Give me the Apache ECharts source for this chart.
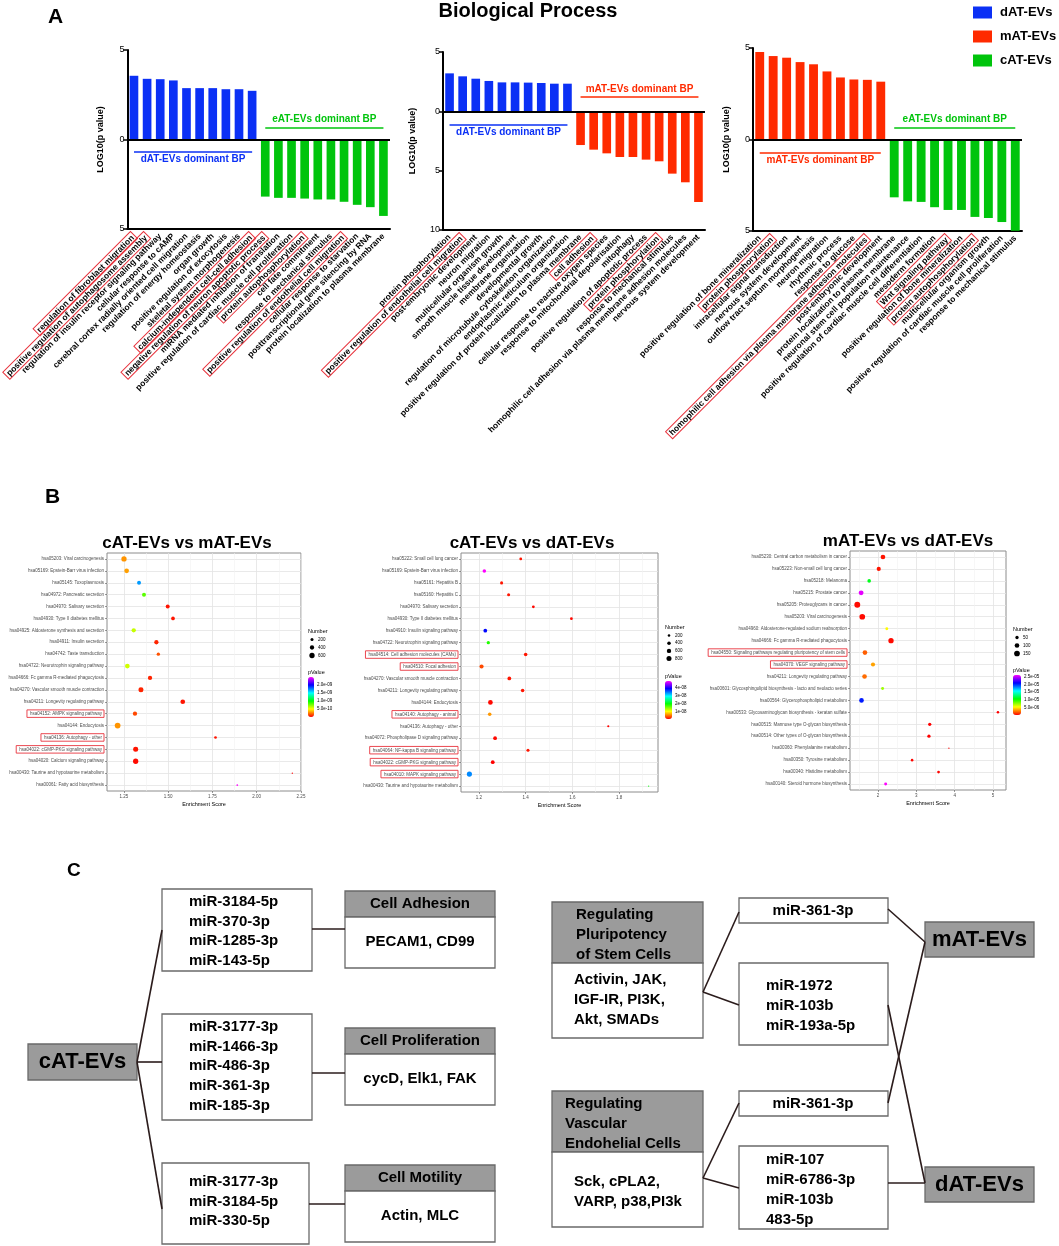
<!DOCTYPE html>
<html>
<head>
<meta charset="utf-8">
<script src="https://cdn.jsdelivr.net/npm/echarts@6/dist/echarts.min.js"></script>
<style>
html, body { margin: 0; padding: 0; background: #fff; }
#chart { width: 1059px; height: 1246px; }
</style>
</head>
<body>
<div id="chart"></div>
<script>
// ---- panel A: GO biological process ----
var bp1Labels = ['regulation of fibroblast migration', 'positive regulation of autophagosome assembly', 'regulation of insulin receptor signaling pathway', 'cellular response to cAMP', 'cerebral cortex radially oriented cell migration', 'regulation of energy homeostasis', 'organ growth', 'positive regulation of exocytosis', 'skeletal system morphogenesis', 'calcium-independent cell-cell adhesion', 'negative regulation of neuron apoptotic process', 'miRNA mediated inhibition of translation', 'positive regulation of cardiac muscle cell proliferation', 'protein autophosphorylation', 'cell fate commitment', 'response to mechanical stimulus', 'positive regulation of endothelial cell migration', 'cellular response to starvation', 'posttranscriptional gene silencing by RNA', 'protein localization to plasma membrane'];
var bp1Up = [3.56, 3.39, 3.37, 3.30, 2.87, 2.87, 2.87, 2.81, 2.81, 2.72];
var bp1Down = [3.19, 3.26, 3.26, 3.30, 3.35, 3.35, 3.48, 3.65, 3.78, 4.27];
var bp1Boxed = [0, 1, 9, 10, 13, 16];

var bp2Labels = ['protein phosphorylation', 'positive regulation of endothelial cell migration', 'post-embryonic development', 'neuron migration', 'multicellular organism growth', 'smooth muscle tissue development', 'membrane organization', 'developmental growth', 'regulation of microtubule cytoskeleton organization', 'endoplasmic reticulum organization', 'positive regulation of protein localization to plasma membrane', 'cell adhesion', 'cellular response to reactive oxygen species', 'response to mitochondrial depolarisation', 'mitophagy', 'positive regulation of apoptotic process', 'protein phosphorylation', 'response to mechanical stimulus', 'homophilic cell adhesion via plasma membrane adhesion molecules', 'nervous system development'];
var bp2Up = [3.20, 2.95, 2.75, 2.56, 2.44, 2.44, 2.42, 2.39, 2.33, 2.33];
var bp2Down = [2.84, 3.23, 3.54, 3.85, 3.85, 4.07, 4.21, 5.25, 5.98, 7.64];
var bp2Boxed = [1, 11, 16];

var bp3Labels = ['positive regulation of bone mineralization', 'protein phosphorylation', 'intracellular signal transduction', 'nervous system development', 'outflow tract septum morphogenesis', 'neuron migration', 'rhythmic process', 'response to glucose', 'homophilic cell adhesion via plasma membrane adhesion molecules', 'post-embryonic development', 'protein localization to plasma membrane', 'neuronal stem cell population maintenance', 'positive regulation of cardiac muscle cell differentiation', 'mesoderm formation', 'Wnt signaling pathway', 'positive regulation of bone mineralization', 'protein autophosphorylation', 'multicellular organism growth', 'positive regulation of cardiac muscle cell proliferation', 'response to mechanical stimulus'];
var bp3Up = [4.78, 4.56, 4.47, 4.23, 4.11, 3.72, 3.39, 3.28, 3.26, 3.16];
var bp3Down = [3.16, 3.38, 3.41, 3.70, 3.85, 3.85, 4.23, 4.29, 4.51, 4.98];
var bp3Boxed = [1, 8, 14, 16];

var groupNames = ['dAT-EVs', 'mAT-EVs', 'cAT-EVs'];
var noteTexts = ['dAT-EVs dominant BP', 'mAT-EVs dominant BP', 'eAT-EVs dominant BP'];

// ---- panel B: KEGG enrichment ----
var kegg1Cats = ['hsa05203: Viral carcinogenesis', 'hsa05169: Epstein-Barr virus infection', 'hsa05145: Toxoplasmosis', 'hsa04972: Pancreatic secretion', 'hsa04970: Salivary secretion', 'hsa04930: Type II diabetes mellitus', 'hsa04925: Aldosterone synthesis and secretion', 'hsa04911: Insulin secretion', 'hsa04742: Taste transduction', 'hsa04722: Neurotrophin signaling pathway', 'hsa04666: Fc gamma R-mediated phagocytosis', 'hsa04270: Vascular smooth muscle contraction', 'hsa04211: Longevity regulating pathway', 'hsa04152: AMPK signaling pathway', 'hsa04144: Endocytosis', 'hsa04136: Autophagy - other', 'hsa04022: cGMP-PKG signaling pathway', 'hsa04020: Calcium signaling pathway', 'hsa00430: Taurine and hypotaurine metabolism', 'hsa00061: Fatty acid biosynthesis'];
var kegg1Score = [1.25, 1.265, 1.335, 1.363, 1.497, 1.527, 1.305, 1.433, 1.444, 1.269, 1.397, 1.346, 1.582, 1.312, 1.214, 1.767, 1.316, 1.316, 2.201, 1.890];
var kegg1P = [3.0e-10, 3.2e-10, 1.7e-9, 8.3e-10, 5e-11, 5e-11, 6.2e-10, 8e-11, 1.7e-10, 6.0e-10, 8e-11, 8e-11, 5e-11, 1.5e-10, 3.0e-10, 5e-11, 5e-11, 3e-11, 1e-11, 2.5e-9];
var kegg1N = [600, 470, 340, 340, 340, 290, 400, 400, 240, 470, 400, 535, 470, 400, 700, 150, 535, 600, 40, 60];
var kegg1Boxed = [13, 15, 16];
var kegg1Ticks = [1.25, 1.5, 1.75, 2.0, 2.25];
var kegg1Minor = [1.375, 1.625, 1.875, 2.125];
var kegg1SizeKeys = [200, 400, 600];
var kegg1PKeys = [5e-10, 1e-9, 1.5e-9, 2e-9];

var kegg2Cats = ['hsa05222: Small cell lung cancer', 'hsa05169: Epstein-Barr virus infection', 'hsa05161: Hepatitis B', 'hsa05160: Hepatitis C', 'hsa04970: Salivary secretion', 'hsa04930: Type II diabetes mellitus', 'hsa04910: Insulin signaling pathway', 'hsa04722: Neurotrophin signaling pathway', 'hsa04514: Cell adhesion molecules (CAMs)', 'hsa04510: Focal adhesion', 'hsa04270: Vascular smooth muscle contraction', 'hsa04211: Longevity regulating pathway', 'hsa04144: Endocytosis', 'hsa04140: Autophagy - animal', 'hsa04136: Autophagy - other', 'hsa04072: Phospholipase D signaling pathway', 'hsa04064: NF-kappa B signaling pathway', 'hsa04022: cGMP-PKG signaling pathway', 'hsa04010: MAPK signaling pathway', 'hsa00430: Taurine and hypotaurine metabolism'];
var kegg2Score = [1.379, 1.223, 1.297, 1.327, 1.433, 1.596, 1.227, 1.240, 1.400, 1.211, 1.330, 1.387, 1.249, 1.246, 1.754, 1.269, 1.410, 1.259, 1.159, 1.927];
var kegg2P = [1e-9, 4.9e-8, 1e-9, 1e-9, 5e-10, 5e-10, 3.9e-8, 1.85e-8, 1e-9, 3e-9, 1e-9, 1e-9, 5e-10, 6e-9, 3e-10, 5e-10, 1e-9, 2e-10, 3.4e-8, 2e-8];
var kegg2N = [250, 400, 300, 300, 250, 250, 450, 350, 400, 550, 450, 400, 700, 400, 150, 450, 300, 450, 850, 40];
var kegg2Boxed = [8, 9, 13, 16, 17, 18];
var kegg2Ticks = [1.2, 1.4, 1.6, 1.8];
var kegg2Minor = [1.3, 1.5, 1.7, 1.9];
var kegg2SizeKeys = [200, 400, 600, 800];
var kegg2PKeys = [1e-8, 2e-8, 3e-8, 4e-8];

var kegg3Cats = ['hsa05230: Central carbon metabolism in cancer', 'hsa05223: Non-small cell lung cancer', 'hsa05218: Melanoma', 'hsa05215: Prostate cancer', 'hsa05205: Proteoglycans in cancer', 'hsa05203: Viral carcinogenesis', 'hsa04960: Aldosterone-regulated sodium reabsorption', 'hsa04666: Fc gamma R-mediated phagocytosis', 'hsa04550: Signaling pathways regulating pluripotency of stem cells', 'hsa04370: VEGF signaling pathway', 'hsa04211: Longevity regulating pathway', 'hsa00601: Glycosphingolipid biosynthesis - lacto and neolacto series', 'hsa00564: Glycerophospholipid metabolism', 'hsa00533: Glycosaminoglycan biosynthesis - keratan sulfate', 'hsa00515: Mannose type O-glycan biosynthesis', 'hsa00514: Other types of O-glycan biosynthesis', 'hsa00360: Phenylalanine metabolism', 'hsa00350: Tyrosine metabolism', 'hsa00340: Histidine metabolism', 'hsa00140: Steroid hormone biosynthesis'];
var kegg3Score = [2.13, 2.02, 1.77, 1.56, 1.46, 1.59, 2.23, 2.34, 1.66, 1.87, 1.65, 2.12, 1.57, 5.13, 3.35, 3.33, 3.85, 2.89, 3.58, 2.20];
var kegg3P = [5e-7, 5e-7, 1.1e-5, 2.55e-5, 3e-7, 3e-7, 5.2e-6, 3e-7, 2e-6, 3.4e-6, 2.3e-6, 7.3e-6, 2.03e-5, 1e-7, 1e-7, 1e-7, 2e-7, 2e-7, 2e-7, 2.6e-5];
var kegg3N = [100, 80, 60, 110, 160, 150, 40, 130, 100, 80, 100, 40, 100, 30, 50, 50, 8, 30, 35, 40];
var kegg3Boxed = [8, 9];
var kegg3Ticks = [2, 3, 4, 5];
var kegg3Minor = [1.5, 2.5, 3.5, 4.5];
var kegg3SizeKeys = [50, 100, 150];
var kegg3PKeys = [5e-6, 1e-5, 1.5e-5, 2e-5, 2.5e-5];

var keggTitles = ['cAT-EVs vs mAT-EVs', 'cAT-EVs vs dAT-EVs', 'mAT-EVs vs dAT-EVs'];

// ---- panel C: miRNA network ----
var cLeftMirs = [['miR-3184-5p', 'miR-370-3p', 'miR-1285-3p', 'miR-143-5p'], ['miR-3177-3p', 'miR-1466-3p', 'miR-486-3p', 'miR-361-3p', 'miR-185-3p'], ['miR-3177-3p', 'miR-3184-5p', 'miR-330-5p']];
var cFunctions = ['Cell Adhesion', 'Cell Proliferation', 'Cell Motility'];
var cTargets = ['PECAM1, CD99', 'cycD, Elk1, FAK', 'Actin, MLC'];
var cRightHeads = [['Regulating', 'Pluripotency', 'of Stem Cells'], ['Regulating', 'Vascular', 'Endohelial Cells']];
var cRightBodies = [['Activin, JAK,', 'IGF-IR, PI3K,', 'Akt, SMADs'], ['Sck, cPLA2,', 'VARP, p38,PI3k']];
var cRightMirs = [['miR-361-3p'], ['miR-1972', 'miR-103b', 'miR-193a-5p'], ['miR-361-3p'], ['miR-107', 'miR-6786-3p', 'miR-103b', '483-5p']];
var cGroups = ['cAT-EVs', 'mAT-EVs', 'dAT-EVs'];

var FONT = '"Liberation Sans", Arial, Helvetica, sans-serif';
var COLORS = {'dAT-EVs': '#0b30f5', 'mAT-EVs': '#ff2a00', 'cAT-EVs': '#00c40c'};
var RAINBOW = ['#ff0000', '#ffff00', '#00ff00', '#00ffff', '#0000ff', '#ff00ff'];

var grids = [], xAxes = [], yAxes = [], series = [], visualMaps = [], graphics = [];

function gText(t, x, y, size, align, weight, color) {
  return {type: 'text', x: x, y: y, silent: true, z: 10,
    style: {text: t, font: (weight || 'bold') + ' ' + size + 'px ' + FONT, fill: color || '#000',
      textAlign: align || 'left', textVerticalAlign: 'middle'}};
}
function gRect(x, y, w, h, fill, stroke) {
  return {type: 'rect', silent: true, z: 5, shape: {x: x, y: y, width: w, height: h},
    style: {fill: fill, stroke: stroke, lineWidth: 1.3}};
}
function gLine(x1, y1, x2, y2) {
  return {type: 'line', silent: true, z: 6, shape: {x1: x1, y1: y1, x2: x2, y2: y2},
    style: {stroke: '#2b1c1c', lineWidth: 1.6}};
}
function sci(v, d) {
  var s = v.toExponential(d).split('e');
  var e = parseInt(s[1], 10);
  return s[0] + 'e' + (e < 0 ? '-' : '+') + (Math.abs(e) < 10 ? '0' : '') + Math.abs(e);
}

// guide line heights (log10 units): [below zero under the up bars, above zero over the down bars]
var noteLevels = [[0.67, 0.67], [1.1, 1.19], [0.71, 0.66]];

function bpPanel(gi, g, labels, up, down, boxed, upName, downName, ymin, upNote, downNote, nameGap) {
  grids.push(g);
  xAxes.push({
    type: 'category', gridIndex: gi, data: labels,
    axisLine: {onZero: false, lineStyle: {color: '#000', width: 2}},
    axisTick: {alignWithLabel: true, length: 4, lineStyle: {color: '#000', width: 1.5}},
    axisLabel: {
      interval: 0, rotate: 45, margin: 6, fontSize: 8.5, fontWeight: 'bold', fontFamily: FONT, color: '#000',
      formatter: function (v, idx) { return boxed.indexOf(idx) >= 0 ? '{b|' + v + '}' : v; },
      rich: {b: {borderColor: '#e8333d', borderWidth: 1, padding: [1, 2, 0, 2], fontSize: 8.5, fontWeight: 'bold', fontFamily: FONT, color: '#000'}}
    }
  });
  yAxes.push({
    type: 'value', gridIndex: gi, min: ymin, max: 5, interval: 5,
    name: 'LOG10(p value)', nameLocation: 'middle', nameGap: nameGap,
    nameTextStyle: {fontSize: 9, fontWeight: 'bold', fontFamily: FONT, color: '#000'},
    axisLine: {show: true, lineStyle: {color: '#000', width: 2}},
    axisTick: {show: true, length: 4, lineStyle: {color: '#000', width: 1.5}},
    axisLabel: {fontSize: 9, color: '#000', fontFamily: FONT, margin: 3, formatter: function (v) { return Math.abs(v); }},
    splitLine: {show: false}
  });
  var pad = up.map(function () { return '-'; });
  var n = up.length;
  function note(text, color, from, to, val, pos) {
    return [{coord: [from, val], lineStyle: {color: color, width: 1.6, type: 'solid'},
      label: {show: true, formatter: text, position: pos, distance: 3, color: color, fontSize: 10, fontWeight: 'bold', fontFamily: FONT}},
      {coord: [to, val]}];
  }
  series.push({
    type: 'bar', name: upName, xAxisIndex: gi, yAxisIndex: gi, data: up.concat(pad),
    barGap: '-100%', barCategoryGap: '34%', itemStyle: {color: COLORS[upName]},
    markLine: {silent: true, symbol: 'none', animation: false, data: [
      {yAxis: 0, lineStyle: {color: '#000', width: 2, type: 'solid'}, label: {show: false}},
      note(upNote, COLORS[upName], 0, n - 1, -noteLevels[gi][0], 'insideMiddleBottom'),
      note(downNote, COLORS[downName], n, 2 * n - 1, noteLevels[gi][1], 'insideMiddleTop')
    ]}
  });
  series.push({
    type: 'bar', name: downName, xAxisIndex: gi, yAxisIndex: gi,
    data: pad.concat(down.map(function (v) { return -v; })),
    barGap: '-100%', barCategoryGap: '34%', itemStyle: {color: COLORS[downName]}
  });
}

bpPanel(0, {left: 126, top: 50, width: 264, height: 179}, bp1Labels, bp1Up, bp1Down, bp1Boxed,
  'dAT-EVs', 'cAT-EVs', -5, noteTexts[0], noteTexts[2], 22);
bpPanel(1, {left: 443, top: 52, width: 262, height: 178}, bp2Labels, bp2Up, bp2Down, bp2Boxed,
  'dAT-EVs', 'mAT-EVs', -10, noteTexts[0], noteTexts[1], 26);
bpPanel(2, {left: 753, top: 48, width: 269, height: 183}, bp3Labels, bp3Up, bp3Down, bp3Boxed,
  'mAT-EVs', 'cAT-EVs', -5, noteTexts[1], noteTexts[2], 22);

function keggPanel(gi, g, xr, ticks, minors, dec, cats, score, pv, num, boxed, k, sizeKeys, pKeys, pDec, leg) {
  grids.push({left: g[0], top: g[1], width: g[2], height: g[3], show: true, borderColor: '#8c8c8c', borderWidth: 1, backgroundColor: '#fff'});
  var xi = xAxes.length;
  xAxes.push({
    type: 'value', gridIndex: gi, min: xr[0], max: xr[1],
    name: 'Enrichment Score', nameLocation: 'middle', nameGap: 10,
    nameTextStyle: {fontSize: 5.5, color: '#000', fontFamily: FONT},
    axisLine: {show: false},
    axisTick: {show: true, customValues: ticks, length: 2, lineStyle: {color: '#555', width: 0.6}},
    axisLabel: {customValues: ticks, fontSize: 4.5, color: '#4d4d4d', margin: 3, fontFamily: FONT,
      formatter: function (v) { return (+v).toFixed(dec); }},
    splitLine: {show: true, lineStyle: {color: '#e3e3e3', width: 0.8}}
  });
  xAxes.push({
    type: 'value', gridIndex: gi, position: 'top', min: xr[0], max: xr[1],
    axisLine: {show: false}, axisTick: {show: false, customValues: minors}, axisLabel: {show: false},
    splitLine: {show: true, lineStyle: {color: '#f1f1f1', width: 0.6}}
  });
  yAxes.push({
    type: 'category', gridIndex: gi, data: cats, inverse: true,
    axisLine: {show: false},
    axisTick: {show: true, alignWithLabel: true, length: 2, lineStyle: {color: '#555', width: 0.6}},
    axisLabel: {interval: 0, fontSize: 4.5, color: '#4d4d4d', margin: 3, fontFamily: FONT,
      formatter: function (v, idx) { return boxed.indexOf(idx) >= 0 ? '{b|' + v + '}' : v; },
      rich: {b: {borderColor: '#e8333d', borderWidth: 0.9, padding: [1.5, 2, 1, 3], fontSize: 4.5, color: '#4d4d4d', fontFamily: FONT}}},
    splitLine: {show: true, alignWithLabel: true, lineStyle: {color: '#e3e3e3', width: 0.8}}
  });
  var sizeOf = function (n) { return Math.max(1.2, k * Math.sqrt(n)); };
  var si = series.length;
  series.push({
    type: 'scatter', name: 'kegg' + gi, xAxisIndex: xi, yAxisIndex: gi, z: 4,
    data: score.map(function (x, j) { return [x, j, pv[j], num[j]]; }),
    encode: {x: 0, y: 1},
    symbolSize: function (v) { return sizeOf(v[3]); },
    itemStyle: {opacity: 1}
  });
  var pmin = Math.min.apply(null, pv), pmax = Math.max.apply(null, pv);
  visualMaps.push({
    type: 'continuous', seriesIndex: si, dimension: 2, min: pmin, max: pmax,
    inRange: {color: RAINBOW}, left: leg.bx, top: leg.by, itemWidth: leg.bw, itemHeight: leg.bh,
    padding: 0, calculable: false, hoverLink: false, orient: 'vertical'
  });
  // size legend
  graphics.push(gText('Number', leg.nx, leg.ny, 5.5, 'left', 'normal'));
  sizeKeys.forEach(function (n, j) {
    var y = leg.ny + 8.5 + j * leg.nstep;
    graphics.push({type: 'circle', silent: true, z: 10, shape: {cx: leg.nx + 4, cy: y, r: sizeOf(n) / 2}, style: {fill: '#000'}});
    graphics.push(gText(String(n), leg.nx + 10, y, 4.5, 'left', 'normal'));
  });
  // colour bar labels
  graphics.push(gText('pValue', leg.nx, leg.by - 5, 5.5, 'left', 'normal'));
  pKeys.forEach(function (p) {
    var y = leg.by + leg.bh * (1 - (p - pmin) / (pmax - pmin));
    graphics.push(gText(sci(p, pDec), leg.bx + leg.bw + 3, y, 4.5, 'left', 'normal'));
  });
}

keggPanel(3, [107, 553, 194, 238], [1.154, 2.25], kegg1Ticks, kegg1Minor, 2, kegg1Cats, kegg1Score, kegg1P, kegg1N, kegg1Boxed,
  0.216, kegg1SizeKeys, kegg1PKeys, 1, {nx: 308, ny: 631, nstep: 8, bx: 308, by: 677, bw: 6, bh: 40});
keggPanel(4, [461, 553, 197, 239], [1.123, 1.967], kegg2Ticks, kegg2Minor, 1, kegg2Cats, kegg2Score, kegg2P, kegg2N, kegg2Boxed,
  0.177, kegg2SizeKeys, kegg2PKeys, 0, {nx: 665, ny: 627, nstep: 7.7, bx: 665, by: 681, bw: 7, bh: 38});
keggPanel(5, [850, 551, 156, 239], [1.27, 5.34], kegg3Ticks, kegg3Minor, 0, kegg3Cats, kegg3Score, kegg3P, kegg3N, kegg3Boxed,
  0.465, kegg3SizeKeys, kegg3PKeys, 1, {nx: 1013, ny: 629, nstep: 8, bx: 1013, by: 675, bw: 8, bh: 40});

// titles and panel letters
graphics.push(gText('A', 48, 17, 21, 'left'));
graphics.push(gText('B', 45, 497, 21, 'left'));
graphics.push(gText('C', 67, 871, 19, 'left'));
graphics.push(gText('Biological Process', 528, 11, 20, 'center'));
graphics.push(gText(keggTitles[0], 187, 543, 17, 'center'));
graphics.push(gText(keggTitles[1], 532, 543, 17, 'center'));
graphics.push(gText(keggTitles[2], 908, 541, 17, 'center'));

// ---- panel C drawing ----
var GREY = '#9b9b9b', EDGE = '#6a6a6a';
// left network
graphics.push(gRect(28, 1044, 109, 36, GREY, EDGE));
graphics.push(gText(cGroups[0], 82.5, 1062, 22, 'center'));
var leftBoxes = [[889, 82, 901.7], [1014, 106, 1026.7], [1163, 81, 1181.7]];
var leftW = [150, 150, 147];
var fnTops = [891, 1028, 1165];
var leftLinkY = [930, 1062, 1209];
var fnLinkY = [929, 1073, 1204];
leftBoxes.forEach(function (b, i) {
  graphics.push(gRect(162, b[0], leftW[i], b[1], '#fff', EDGE));
  cLeftMirs[i].forEach(function (m, j) { graphics.push(gText(m, 189, b[2] + j * 19.8, 15, 'left')); });
  graphics.push(gRect(345, fnTops[i], 150, 26, GREY, EDGE));
  graphics.push(gRect(345, fnTops[i] + 26, 150, 51, '#fff', EDGE));
  graphics.push(gText(cFunctions[i], 420, fnTops[i] + 13, 15, 'center'));
  graphics.push(gText(cTargets[i], 420, fnTops[i] + 51, 15, 'center'));
  graphics.push(gLine(137, 1062, 162, leftLinkY[i]));
  graphics.push(gLine(162 + leftW[i], fnLinkY[i], 345, fnLinkY[i]));
});
// right network
var rTops = [902, 1091];
var rHeadX = [576, 565];
rTops.forEach(function (t, i) {
  graphics.push(gRect(552, t, 151, 61, GREY, EDGE));
  graphics.push(gRect(552, t + 61, 151, 75, '#fff', EDGE));
  cRightHeads[i].forEach(function (s, j) { graphics.push(gText(s, rHeadX[i], t + 13 + j * 20, 15, 'left')); });
  var by = i === 0 ? t + 78 : t + 91;
  cRightBodies[i].forEach(function (s, j) { graphics.push(gText(s, 574, by + j * 20, 15, 'left')); });
});
var rMirBoxes = [[898, 25], [963, 82], [1091, 25], [1146, 83]];
rMirBoxes.forEach(function (b, i) {
  graphics.push(gRect(739, b[0], 149, b[1], '#fff', EDGE));
  var list = cRightMirs[i];
  if (list.length === 1) {
    graphics.push(gText(list[0], 813, b[0] + b[1] / 2, 15, 'center'));
  } else {
    var y0 = b[0] + b[1] / 2 - (list.length - 1) * 10 + 2;
    list.forEach(function (m, j) { graphics.push(gText(m, 766, y0 + j * 20, 15, 'left')); });
  }
});
graphics.push(gRect(925, 922, 109, 35, GREY, EDGE));
graphics.push(gText(cGroups[1], 979.5, 939.5, 22, 'center'));
graphics.push(gRect(925, 1167, 109, 35, GREY, EDGE));
graphics.push(gText(cGroups[2], 979.5, 1184.5, 22, 'center'));
graphics.push(gLine(703, 992, 739, 912));
graphics.push(gLine(703, 992, 739, 1005));
graphics.push(gLine(703, 1178, 739, 1103));
graphics.push(gLine(703, 1178, 739, 1188));
graphics.push(gLine(888, 909, 925, 942));
graphics.push(gLine(888, 1103, 925, 942));
graphics.push(gLine(888, 1005, 925, 1183));
graphics.push(gLine(888, 1183, 925, 1183));

var chart = echarts.init(document.getElementById('chart'));
chart.setOption({
  animation: false,
  backgroundColor: '#fff',
  legend: {
    data: groupNames, orient: 'vertical', left: 973, top: 6, padding: 0, itemGap: 11,
    itemWidth: 19, itemHeight: 12, icon: 'rect', selectedMode: false,
    textStyle: {fontSize: 13, fontWeight: 'bold', fontFamily: FONT, color: '#000', padding: [0, 0, 0, 3]}
  },
  grid: grids,
  xAxis: xAxes,
  yAxis: yAxes,
  visualMap: visualMaps,
  series: series,
  graphic: graphics
});
</script>
</body>
</html>
